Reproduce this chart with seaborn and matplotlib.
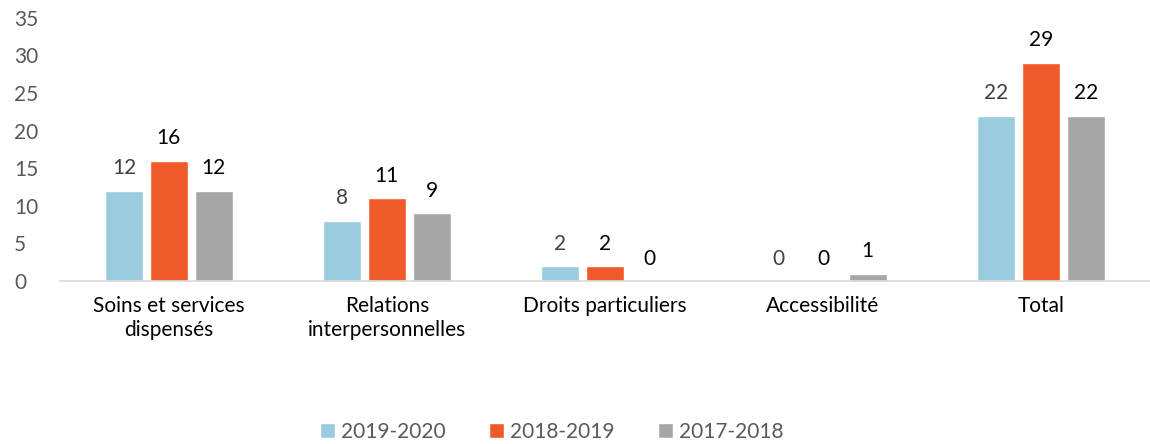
import matplotlib
matplotlib.use("Agg")
import matplotlib.pyplot as plt
import pandas as pd
import seaborn as sns

categories = ["Soins et services\ndispensés", "Relations\ninterpersonnelles",
              "Droits particuliers", "Accessibilité", "Total"]
periods = ["2019-2020", "2018-2019", "2017-2018"]
values_2019_2020 = [12, 8, 2, 0, 22]
values_2018_2019 = [16, 11, 2, 0, 29]
values_2017_2018 = [12, 9, 0, 1, 22]
colors = ["#9BCBDF", "#F05A2B", "#A6A6A6"]
label_colors = ["#404040", "#000000", "#000000"]

df = pd.DataFrame({
    "Catégorie": categories * 3,
    "Période": [p for p in periods for _ in categories],
    "Valeur": values_2019_2020 + values_2018_2019 + values_2017_2018,
})

sns.set_style("white")
plt.rcParams["font.family"] = ["Lato", "DejaVu Sans"]

fig = plt.figure(figsize=(11.5, 4.44), dpi=100)
ax = fig.add_axes([0.052, 0.367, 0.948, 0.593])

sns.barplot(data=df, x="Catégorie", y="Valeur", hue="Période",
            palette=colors, width=0.616, gap=0.15, ax=ax, saturation=1)

for cont, lc in zip(ax.containers, label_colors):
    ax.bar_label(cont, padding=9, fontsize=15, color=lc)

ax.set_ylim(0, 35)
ax.set_yticks(range(0, 36, 5))
ax.set_xlim(-0.5, 4.5)
ax.set_xlabel("")
ax.set_ylabel("")
ax.tick_params(axis="y", labelsize=15, labelcolor="#595959", length=0, pad=33)
ax.tick_params(axis="x", labelsize=15, labelcolor="#000000", length=0, pad=11)
for lab in ax.get_yticklabels():
    lab.set_horizontalalignment("left")
for s in ["top", "right", "left"]:
    ax.spines[s].set_visible(False)
ax.spines["bottom"].set_color("#D9D9D9")
ax.spines["bottom"].set_linewidth(1.2)

handles, labels = ax.get_legend_handles_labels()
ax.legend(handles, labels, loc="center", ncol=3, frameon=False, fontsize=15,
          labelcolor="#595959", handlelength=0.7, handleheight=0.7,
          handletextpad=0.3, columnspacing=2.1)
ax.get_legend().set_bbox_to_anchor((0.48, 0.027), transform=fig.transFigure)

fig.savefig("out.png", dpi=100)
